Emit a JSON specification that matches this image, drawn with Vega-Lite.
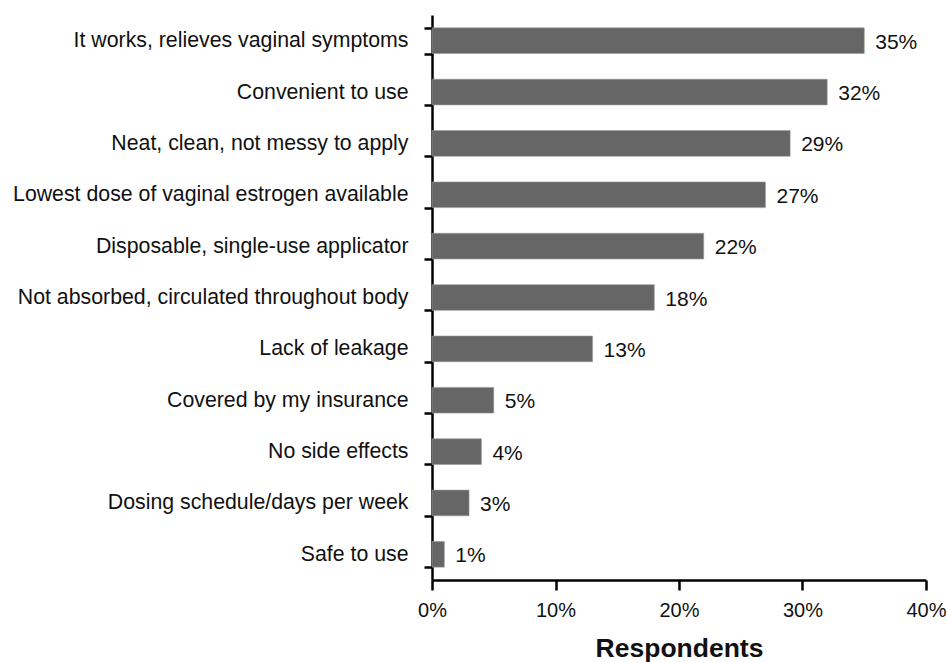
{
  "$schema": "https://vega.github.io/schema/vega-lite/v6.json",
  "width": 494,
  "height": 565,
  "autosize": "none",
  "padding": {"left": 432, "top": 15, "right": 21, "bottom": 82},
  "background": "white",
  "config": {"view": {"stroke": null}, "font": "Liberation Sans"},
  "data": {
    "values": [
      {"reason": "It works, relieves vaginal symptoms", "share": 0.35},
      {"reason": "Convenient to use", "share": 0.32},
      {"reason": "Neat, clean, not messy to apply", "share": 0.29},
      {"reason": "Lowest dose of vaginal estrogen available", "share": 0.27},
      {"reason": "Disposable, single-use applicator", "share": 0.22},
      {"reason": "Not absorbed, circulated throughout body", "share": 0.18},
      {"reason": "Lack of leakage", "share": 0.13},
      {"reason": "Covered by my insurance", "share": 0.05},
      {"reason": "No side effects", "share": 0.04},
      {"reason": "Dosing schedule/days per week", "share": 0.03},
      {"reason": "Safe to use", "share": 0.01}
    ]
  },
  "encoding": {
    "y": {
      "field": "reason",
      "type": "nominal",
      "sort": null,
      "scale": {"paddingInner": 0.5, "paddingOuter": 0.25},
      "axis": {
        "title": null,
        "tickBand": "extent",
        "domainColor": "black",
        "domainWidth": 2.5,
        "tickColor": "black",
        "tickWidth": 2.5,
        "tickSize": 8,
        "labelPadding": 16,
        "labelFontSize": 21.3,
        "labelColor": "#111",
        "labelLimit": 500
      }
    },
    "x": {
      "field": "share",
      "type": "quantitative",
      "scale": {"domain": [0, 0.4]},
      "axis": {
        "values": [0, 0.1, 0.2, 0.3, 0.4],
        "format": ".0%",
        "grid": false,
        "title": "Respondents",
        "titleFontSize": 26.5,
        "titleFontWeight": "bold",
        "titleColor": "#111",
        "titlePadding": 15,
        "domainColor": "black",
        "domainWidth": 2.5,
        "tickColor": "black",
        "tickWidth": 2.5,
        "tickSize": 10,
        "labelPadding": 10,
        "labelFontSize": 20,
        "labelColor": "#111",
        "labelFlush": false
      }
    }
  },
  "layer": [
    {"mark": {"type": "bar", "color": "#666666", "stroke": "#999999", "strokeWidth": 0.6}},
    {
      "mark": {"type": "text", "align": "left", "baseline": "middle", "dx": 11, "dy": 2, "fontSize": 21, "color": "#111"},
      "encoding": {"text": {"field": "share", "type": "quantitative", "format": ".0%"}}
    }
  ]
}
